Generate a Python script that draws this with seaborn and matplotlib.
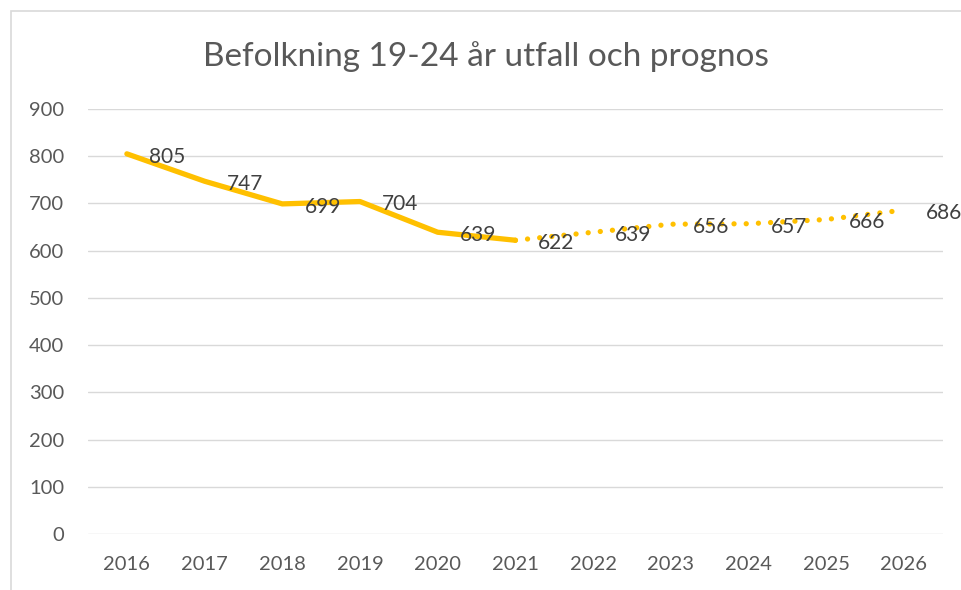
import numpy as np
import pandas as pd
import seaborn as sns
import matplotlib.pyplot as plt
from matplotlib.patches import Rectangle

# Data
years = [2016, 2017, 2018, 2019, 2020, 2021, 2022, 2023, 2024, 2025, 2026]
befolkning = [805, 747, 699, 704, 639, 622, 639, 656, 657, 666, 686]
last_outcome_year = 2021  # utfall up to here, prognos after
y_ticks = [0, 100, 200, 300, 400, 500, 600, 700, 800, 900]
title = "Befolkning 19-24 år utfall och prognos"

line_color = "#FFC000"
text_color = "#595959"
label_color = "#404040"
grid_color = "#D9D9D9"

sns.set_theme(style="white")
plt.rcParams["font.family"] = ["Lato", "DejaVu Sans"]

df = pd.DataFrame({"year": years, "value": befolkning})
df["pos"] = np.arange(len(df))
utfall = df[df["year"] <= last_outcome_year]
prognos = df[df["year"] >= last_outcome_year]

fig = plt.figure(figsize=(9.62, 5.90), dpi=100)
ax = fig.add_axes([0.0915, 0.0949, 0.8885, 0.7204])

sns.lineplot(data=utfall, x="pos", y="value", ax=ax, color=line_color,
             linewidth=3.8, solid_capstyle="round", solid_joinstyle="round")
sns.lineplot(data=prognos, x="pos", y="value", ax=ax, color=line_color,
             linewidth=3.8, linestyle=(0, (0.01, 2.3)), dash_capstyle="round")

for _, r in df.iterrows():
    ax.annotate(str(r["value"]), (r["pos"], r["value"]), xytext=(16, -2),
                textcoords="offset points", ha="left", va="center",
                fontsize=15, color=label_color, annotation_clip=False)

ax.set_xlim(-0.5, len(years) - 0.5)
ax.set_ylim(0, 900)
ax.set_yticks(y_ticks)
ax.set_xticks(df["pos"])
ax.set_xticklabels([str(y) for y in years])
ax.yaxis.grid(True, color=grid_color, linewidth=1.0)
ax.set_axisbelow(True)
for s in ax.spines.values():
    s.set_visible(False)
ax.tick_params(axis="both", length=0, labelsize=14.5, labelcolor=text_color)
ax.tick_params(axis="x", pad=16)
ax.tick_params(axis="y", pad=17)
ax.set_xlabel("")
ax.set_ylabel("")

fig.text(0.505, 0.905, title, ha="center", va="center", fontsize=24, color=text_color)

# chart frame (only top and left edges are inside the image)
fig.patches.append(Rectangle((11 / 962, -0.1), 1.2, 1 - 11 / 590 + 0.1,
                             transform=fig.transFigure, fill=False,
                             edgecolor="#D9D9D9", linewidth=1.2))

fig.savefig("out.png", dpi=100)
